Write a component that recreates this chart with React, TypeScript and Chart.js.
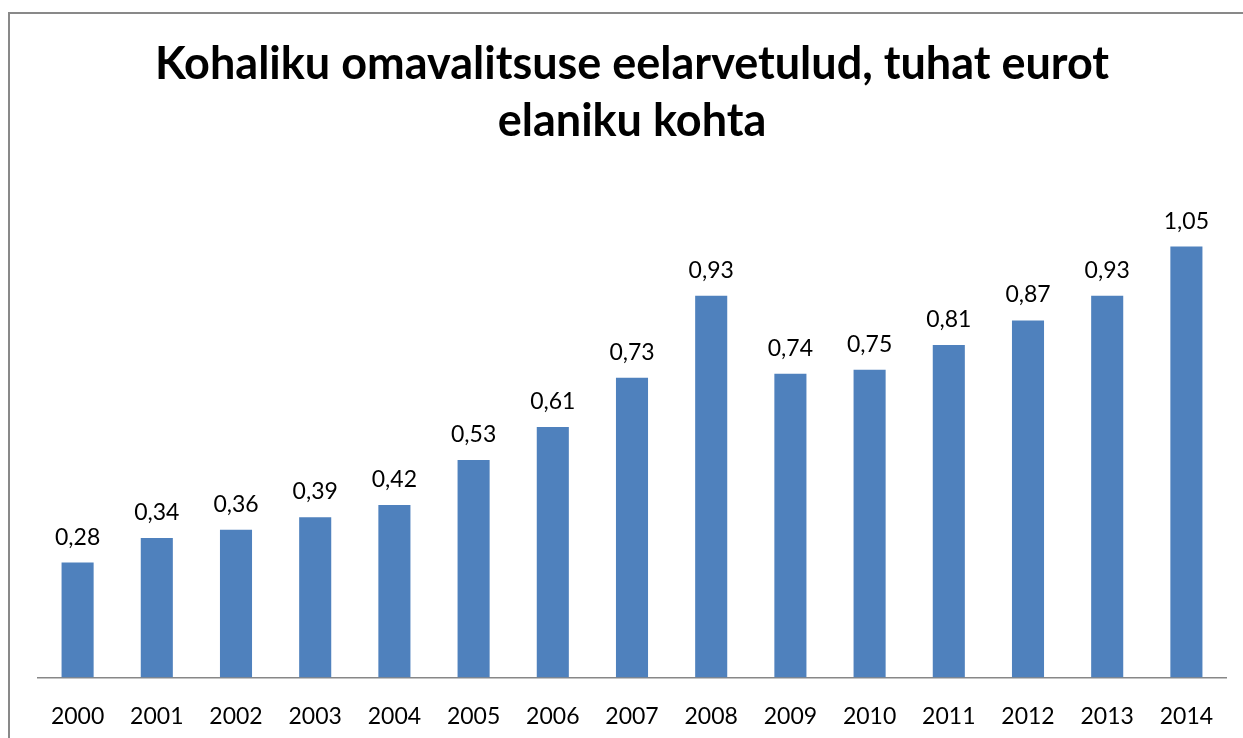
import React, { useEffect, useRef } from "react";
import { Chart, registerables } from "chart.js";

Chart.register(...registerables);

const titleLines = ["Kohaliku omavalitsuse eelarvetulud, tuhat eurot", "elaniku kohta"];
const years = ["2000", "2001", "2002", "2003", "2004", "2005", "2006", "2007", "2008", "2009", "2010", "2011", "2012", "2013", "2014"];
const values = [0.28, 0.34, 0.36, 0.39, 0.42, 0.53, 0.61, 0.73, 0.93, 0.74, 0.75, 0.81, 0.87, 0.93, 1.05];

const FONT = "Lato, 'Open Sans', sans-serif";

const labelPlugin = {
  id: "customLabels",
  afterDatasetsDraw(chart: any) {
    const ctx = chart.ctx;
    const meta = chart.getDatasetMeta(0);
    ctx.save();
    ctx.fillStyle = "#000";
    ctx.font = `23px ${FONT}`;
    ctx.textAlign = "center";
    ctx.textBaseline = "alphabetic";
    meta.data.forEach((bar: any, i: number) => {
      const txt = values[i].toFixed(2).replace(".", ",");
      ctx.fillText(txt, bar.x, bar.y - 18);
    });
    const ca = chart.chartArea;
    const cx = (ca.left + ca.right) / 2;
    ctx.font = `bold 45px ${FONT}`;
    ctx.fillText(titleLines[0], cx, 79);
    ctx.fillText(titleLines[1], cx, 136);
    ctx.restore();
  },
};

export default function App() {
  const ref = useRef<HTMLCanvasElement | null>(null);
  useEffect(() => {
    if (!ref.current) return;
    const chart = new Chart(ref.current, {
      type: "bar",
      data: {
        labels: years,
        datasets: [
          {
            data: values,
            backgroundColor: "#4F81BD",
            barPercentage: 0.405,
            categoryPercentage: 1,
          },
        ],
      },
      options: {
        responsive: false,
        animation: false,
        layout: { padding: { left: 38, right: 17, top: 185, bottom: 8 } },
        plugins: { legend: { display: false }, tooltip: { enabled: false }, title: { display: false } },
        scales: {
          x: {
            grid: { display: false, drawTicks: false },
            border: { display: true, color: "#878787", width: 1.5 },
            ticks: { color: "#000", font: { family: FONT, size: 23 }, padding: 25, maxRotation: 0 },
          },
          y: {
            display: false,
            min: 0,
            max: 1.2,
          },
        },
      },
      plugins: [labelPlugin],
    });
    return () => chart.destroy();
  }, []);
  return (
    <div style={{ position: "fixed", inset: 0, overflow: "hidden", background: "#fff" }}>
      <div
        style={{
          position: "absolute",
          left: 8,
          top: 12,
          width: 1300,
          height: 800,
          border: "2px solid #898989",
        }}
      />
      <canvas ref={ref} width={1243} height={763} style={{ position: "absolute", left: 0, top: 0 }} />
    </div>
  );
}
